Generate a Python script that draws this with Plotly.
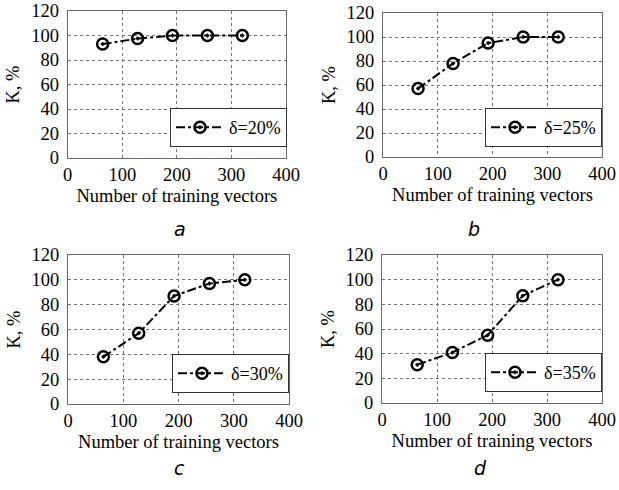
import plotly.graph_objects as go

x_vectors = [64, 128, 192, 256, 320]
k_20 = [93, 97.5, 100, 100, 100]
k_25 = [57, 78, 95, 100, 100]
k_30 = [38, 57, 87, 97, 100]
k_35 = [31, 41, 55, 87, 100]
series_names = ["δ=20%", "δ=25%", "δ=30%", "δ=35%"]
panel_letters = ["a", "b", "c", "d"]
x_ticks = [0, 100, 200, 300, 400]
y_ticks = [0, 20, 40, 60, 80, 100, 120]

W, H = 619, 490
# plot areas in pixels (x0, x1, ytop, ybottom)
areas = [(67.7, 286, 11, 158), (383, 602, 13, 157), (68, 289, 255, 404), (382, 602, 255, 403)]
legend_pos = [(287, 108), (602, 108), (289, 354), (602, 353)]
letter_pos = [(172, 229), (482, 229), (172, 481), (489, 481)]

serif = "Liberation Serif, Times New Roman, Times, serif"
fig = go.Figure()
data = [k_20, k_25, k_30, k_35]
layout = {}
for i in range(4):
    sfx = "" if i == 0 else str(i + 1)
    lg = "legend" if i == 0 else "legend" + str(i + 1)
    fig.add_trace(go.Scatter(
        x=x_vectors, y=data[i], name=series_names[i], mode="lines+markers",
        line=dict(color="black", width=2, dash="dashdot"),
        marker=dict(symbol="circle-open-dot", size=11, color="black", line=dict(width=2.5, color="black")),
        xaxis="x" + sfx, yaxis="y" + sfx, legend=lg,
    ))
    x0, x1, yt, yb = areas[i]
    axcommon = dict(showline=True, mirror=True, linecolor="#6a6a6a", linewidth=1,
                    showgrid=True, gridcolor="#777777", griddash="dot", gridwidth=1,
                    zeroline=False, ticks="", ticklen=0,
                    tickfont=dict(family=serif, size=18.5, color="black"))
    layout["xaxis" + sfx] = dict(domain=[x0 / W, x1 / W], anchor="y" + sfx, range=[0, 400],
                                 tickvals=x_ticks, ticklabelstandoff=0,
                                 title=dict(text="Number of training vectors",
                                 font=dict(family=serif, size=18.5, color="black"), standoff=4), **axcommon)
    layout["yaxis" + sfx] = dict(domain=[1 - yb / H, 1 - yt / H], anchor="x" + sfx, range=[0, 120],
                                 tickvals=y_ticks, ticklabelstandoff=4,
                                 title=dict(text="K, %",
                                 font=dict(family=serif, size=18.5, color="black"), standoff=6), **axcommon)
    lx, ly = legend_pos[i]
    layout[lg] = dict(x=lx / W, y=1 - ly / H, xanchor="right", yanchor="top",
                      bordercolor="#333333", borderwidth=1, bgcolor="white", itemwidth=48,
                      font=dict(family=serif, size=18, color="black"))

annotations = []
for i in range(4):
    ax, ay = letter_pos[i]
    annotations.append(dict(text="<i>" + panel_letters[i] + "</i>", x=ax / W, y=1 - ay / H,
                            xref="paper", yref="paper", showarrow=False,
                            font=dict(family="DejaVu Sans", size=19, color="black")))

fig.update_layout(width=W, height=H, margin=dict(l=0, r=0, t=0, b=0, autoexpand=False),
                  paper_bgcolor="white", plot_bgcolor="white", showlegend=True,
                  annotations=annotations, **layout)
fig.write_html("out.html", config={"displayModeBar": False},
               post_script="document.body.style.margin='0';document.body.style.overflow='hidden';")
